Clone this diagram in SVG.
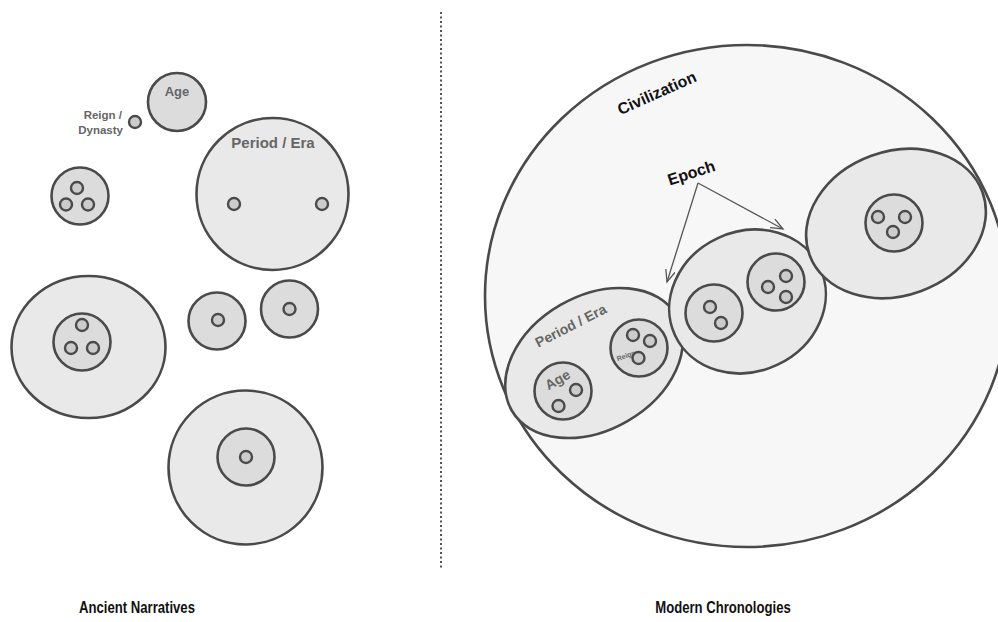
<svg xmlns="http://www.w3.org/2000/svg" width="998" height="622" viewBox="0 0 998 622">
  <style>
    .ring { stroke: #4a4a4a; stroke-width: 2.6; }
    .outer { fill: #e9e9e9; }
    .inner { fill: #dcdcdc; }
    .dot { fill: #cccccc; stroke: #4a4a4a; stroke-width: 2.4; }
    .civ { fill: #f7f7f7; stroke: #4a4a4a; stroke-width: 2.6; }
    .lbl { font-family: "Liberation Sans", Arial, sans-serif; font-weight: bold; fill: #666666; }
    .dark { font-family: "Liberation Sans", Arial, sans-serif; font-weight: bold; fill: #111111; }
    .link { stroke: #555555; stroke-width: 1.3; fill: none; }
  </style>
  <defs>
    <marker id="vhead" markerUnits="userSpaceOnUse" markerWidth="14" markerHeight="12" refX="12" refY="5" orient="auto">
      <path d="M0,0 L12,5 L0,10" fill="none" stroke="#555555" stroke-width="1.3"/>
    </marker>
  </defs>

  <rect width="998" height="622" fill="#ffffff"/>

  <!-- left panel: loose, unnested units -->
  <g id="left-reign">
    <circle class="dot" cx="135" cy="122" r="6"/>
    <text class="lbl" font-size="11.5" text-anchor="end" x="122" y="119">Reign /</text>
    <text class="lbl" font-size="11.5" text-anchor="end" x="123" y="134">Dynasty</text>
  </g>
  <g id="left-age">
    <circle class="ring inner" cx="177" cy="102" r="29"/>
    <text class="lbl" font-size="13" text-anchor="middle" x="177" y="96">Age</text>
  </g>
  <g id="left-period">
    <circle class="ring outer" cx="272.5" cy="194" r="76"/>
    <text class="lbl" font-size="15" text-anchor="middle" x="273" y="148">Period / Era</text>
    <circle class="dot" cx="234" cy="204" r="6"/>
    <circle class="dot" cx="322" cy="204" r="6"/>
  </g>
  <g id="left-triple">
    <circle class="ring inner" cx="80" cy="196" r="28.5"/>
    <circle class="dot" cx="77" cy="188" r="6"/>
    <circle class="dot" cx="66" cy="204.5" r="6"/>
    <circle class="dot" cx="88" cy="204.5" r="6"/>
  </g>
  <g id="left-big-ellipse">
    <ellipse class="ring outer" cx="88.5" cy="347" rx="77" ry="71"/>
    <circle class="ring inner" cx="82" cy="342" r="28.5"/>
    <circle class="dot" cx="82" cy="325" r="6"/>
    <circle class="dot" cx="71" cy="348" r="6"/>
    <circle class="dot" cx="93" cy="348" r="6"/>
  </g>
  <g id="left-single-a">
    <circle class="ring inner" cx="217" cy="321" r="28.5"/>
    <circle class="dot" cx="218" cy="320" r="6"/>
  </g>
  <g id="left-single-b">
    <circle class="ring inner" cx="289.5" cy="309" r="28.5"/>
    <circle class="dot" cx="289.5" cy="309" r="6"/>
  </g>
  <g id="left-bottom">
    <circle class="ring outer" cx="245.5" cy="467.5" r="77"/>
    <circle class="ring inner" cx="246" cy="457" r="28.5"/>
    <circle class="dot" cx="246" cy="457" r="6"/>
  </g>

  <!-- divider -->
  <line x1="441" y1="12" x2="441" y2="570" stroke="#555555" stroke-width="2" stroke-dasharray="2 2.5"/>

  <!-- right panel: nested hierarchy -->
  <g id="civilization">
    <ellipse class="civ" cx="747" cy="296" rx="262" ry="251"/>
    <text class="dark" font-size="16" text-anchor="middle" transform="translate(659 98) rotate(-24)">Civilization</text>
  </g>
  <g id="period-era">
    <ellipse class="ring outer" cx="594" cy="363" rx="95" ry="67" transform="rotate(-30 594 363)"/>
    <text class="lbl" font-size="14" text-anchor="middle" transform="translate(573 330) rotate(-27)">Period / Era</text>
    <g id="age">
      <circle class="ring inner" cx="563" cy="391" r="28.5"/>
      <text class="lbl" font-size="14" text-anchor="middle" transform="translate(560 384) rotate(-30)">Age</text>
      <circle class="dot" cx="576" cy="390" r="6"/>
      <circle class="dot" cx="558.5" cy="406" r="6"/>
    </g>
    <g id="reign">
      <circle class="ring inner" cx="639" cy="348" r="28.5"/>
      <text class="lbl" font-size="7" text-anchor="middle" transform="translate(627 358) rotate(-20)">Reign</text>
      <circle class="dot" cx="633" cy="335" r="6"/>
      <circle class="dot" cx="650" cy="341" r="6"/>
      <circle class="dot" cx="638.5" cy="358" r="6"/>
    </g>
  </g>
  <g id="epoch-middle">
    <ellipse class="ring outer" cx="747.5" cy="301.5" rx="80" ry="70" transform="rotate(-25 747.5 301.5)"/>
    <circle class="ring inner" cx="714" cy="313" r="28.5"/>
    <circle class="dot" cx="710" cy="307" r="6"/>
    <circle class="dot" cx="721" cy="323" r="6"/>
    <circle class="ring inner" cx="776" cy="282" r="28.5"/>
    <circle class="dot" cx="768" cy="287" r="6"/>
    <circle class="dot" cx="786" cy="276" r="6"/>
    <circle class="dot" cx="786" cy="297" r="6"/>
  </g>
  <g id="epoch-upper">
    <ellipse class="ring outer" cx="896" cy="223.5" rx="92" ry="72" transform="rotate(-20 896 223.5)"/>
    <circle class="ring inner" cx="894" cy="223" r="28.5"/>
    <circle class="dot" cx="878" cy="217" r="6"/>
    <circle class="dot" cx="905" cy="217" r="6"/>
    <circle class="dot" cx="893" cy="232" r="6"/>
  </g>

  <g id="epoch-label">
    <text class="dark" font-size="16" text-anchor="middle" transform="translate(693 178) rotate(-18)">Epoch</text>
  </g>

  <g id="connectors">
    <line class="link" x1="698" y1="183" x2="667" y2="282" marker-end="url(#vhead)"/>
    <line class="link" x1="698" y1="183" x2="783" y2="229" marker-end="url(#vhead)"/>
  </g>

  <!-- panel captions, set in a narrowed bold face -->
  <g id="captions">
    <text class="dark" font-size="16" text-anchor="middle" transform="translate(137 613) scale(0.82 1)">Ancient Narratives</text>
    <text class="dark" font-size="16" text-anchor="middle" transform="translate(723 613) scale(0.82 1)">Modern Chronologies</text>
  </g>
</svg>
